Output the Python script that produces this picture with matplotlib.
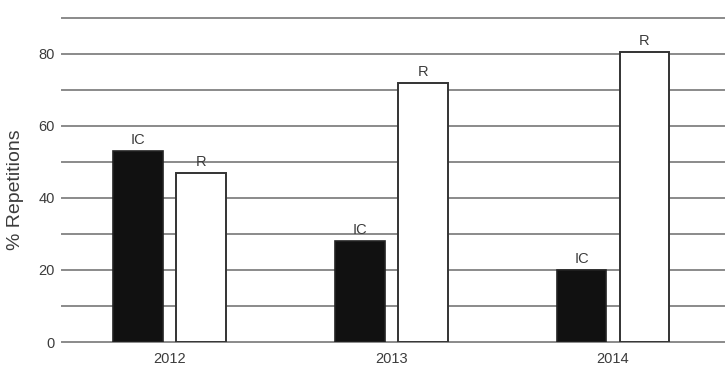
import matplotlib
matplotlib.use('Agg')
import matplotlib.pyplot as plt
import numpy as np

plt.rcParams['font.family'] = ['Liberation Sans', 'DejaVu Sans']

years = ['2012', '2013', '2014']
ic = [53, 28, 20]
r = [47, 72, 80.5]

fig = plt.figure(figsize=(7.25, 3.79), dpi=100)
ax = fig.add_axes([0.0855, 0.0976, 0.913, 0.855])

x = np.arange(len(years))
w = 0.225
off = 0.142
grey = '#3c3c3c'

ax.set_ylim(0, 90)
ax.set_xlim(-0.484, 2.5)
ax.set_yticks(np.arange(0, 91, 10))
ax.set_yticklabels(['0', '', '20', '', '40', '', '60', '', '80', ''])
ax.yaxis.grid(True, color='#8a8a8a', linewidth=1.4)
for gl in ax.get_ygridlines():
    gl.set_clip_on(False)
ax.set_axisbelow(True)

b1 = ax.bar(x - off, ic, w, color='#111111', edgecolor='#222222', linewidth=1.2)
b2 = ax.bar(x + off, r, w, color='white', edgecolor='#333333', linewidth=1.4)

for rect in b1:
    ax.annotate('IC', (rect.get_x() + rect.get_width() / 2, rect.get_height()),
                xytext=(0, 3), textcoords='offset points', ha='center', va='bottom',
                fontsize=10.5, color=grey)
for rect in b2:
    ax.annotate('R', (rect.get_x() + rect.get_width() / 2, rect.get_height()),
                xytext=(0, 3), textcoords='offset points', ha='center', va='bottom',
                fontsize=10.5, color=grey)

ax.set_xticks(x)
ax.set_xticklabels(years)
ax.tick_params(axis='both', length=0, labelsize=10.5, labelcolor=grey)
ax.tick_params(axis='x', pad=7)
ax.tick_params(axis='y', pad=5)

fig.text(16 / 725, 1 - 190 / 379, '% Repetitions', rotation=90, ha='center', va='center',
         fontsize=14, color=grey)

for s in ax.spines.values():
    s.set_visible(False)

fig.savefig('out.png', dpi=100)
